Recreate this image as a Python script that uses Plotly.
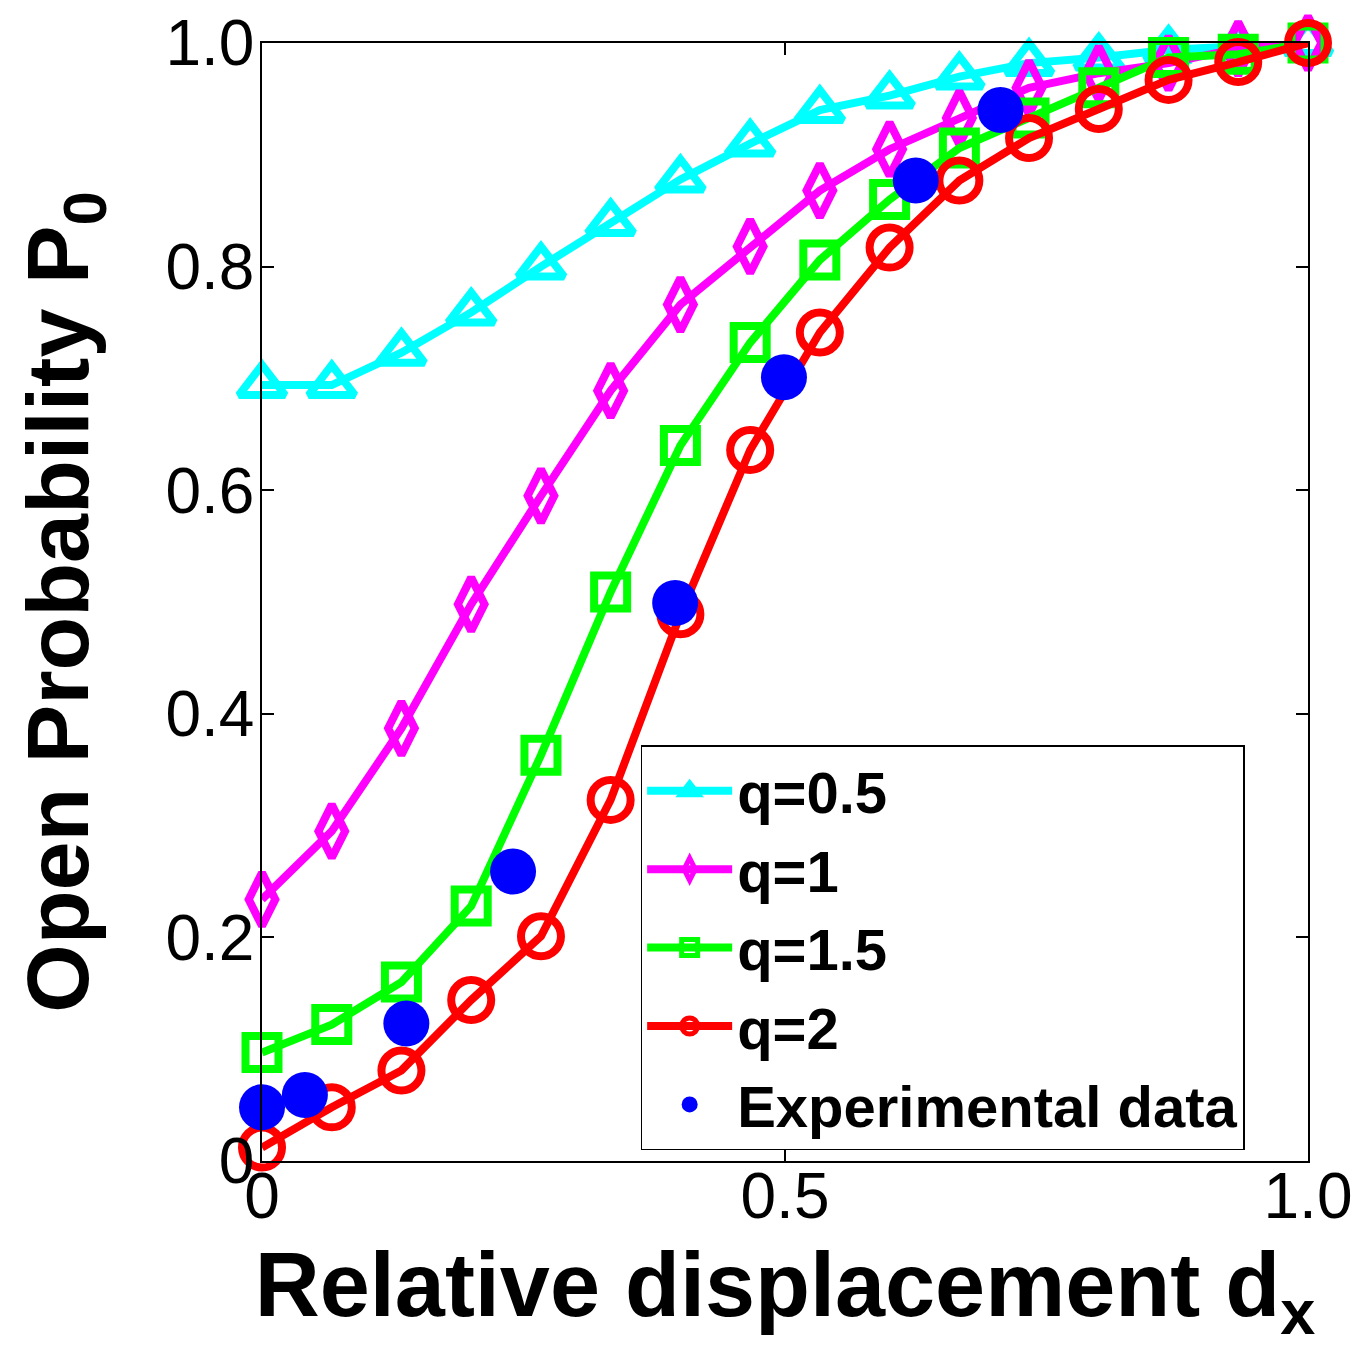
import plotly.graph_objects as go

# x grid of model curves (relative displacement d_x)
dx = [0.0, 0.0667, 0.1333, 0.2, 0.2667, 0.3333, 0.4, 0.4667,
      0.5333, 0.6, 0.6667, 0.7333, 0.8, 0.8667, 0.9333, 1.0]

p_q05 = [0.694, 0.694, 0.723, 0.759, 0.800, 0.839, 0.878, 0.910,
         0.940, 0.953, 0.970, 0.982, 0.987, 0.994, 0.997, 1.0]
p_q1 = [0.234, 0.295, 0.387, 0.498, 0.595, 0.689, 0.766, 0.818,
        0.868, 0.905, 0.933, 0.960, 0.973, 0.982, 0.995, 1.0]
p_q15 = [0.097, 0.122, 0.160, 0.228, 0.363, 0.509, 0.640, 0.732,
         0.806, 0.860, 0.906, 0.933, 0.960, 0.987, 0.990, 1.0]
p_q2 = [0.012, 0.048, 0.081, 0.144, 0.201, 0.323, 0.489, 0.636,
        0.741, 0.817, 0.877, 0.915, 0.941, 0.967, 0.983, 1.0]

exp_x = [0.0, 0.041, 0.138, 0.240, 0.395, 0.499, 0.625, 0.706]
exp_y = [0.048, 0.059, 0.123, 0.259, 0.499, 0.701, 0.877, 0.940]

y_ticks = [0, 0.2, 0.4, 0.6, 0.8, 1.0]
y_ticktext = ["0", "0.2", "0.4", "0.6", "0.8", "1.0"]
x_ticks = [0, 0.5, 1.0]
x_ticktext = ["0", "0.5", "1.0"]

series = [
    ("q=0.5", p_q05, "#00FFFF", "triangle-up-open", 40),
    ("q=1", p_q1, "#FF00FF", "diamond-tall-open", 38),
    ("q=1.5", p_q15, "#00FF00", "square-open", 33),
    ("q=2", p_q2, "#FF0000", "circle-open", 40),
]

fig = go.Figure()
for name, ys, col, sym, sz in series:
    fig.add_trace(go.Scatter(
        x=dx, y=ys, name=name, mode="lines+markers",
        line=dict(color=col, width=8),
        marker=dict(symbol=sym, size=sz, color=col, line=dict(color=col, width=8)),
        cliponaxis=False,
    ))

fig.add_trace(go.Scatter(
    x=exp_x, y=exp_y, name="Experimental data", mode="markers",
    marker=dict(symbol="circle", size=46, color="#0000FF"),
    cliponaxis=False,
))

font_family = "Liberation Sans, Arial, sans-serif"

# page body has an 8px default margin, so the figure is slightly smaller
fig.update_layout(
    width=1355, height=1347,
    margin=dict(l=254, r=55, t=35, b=194, autoexpand=False),
    paper_bgcolor="white", plot_bgcolor="white",
    font=dict(family=font_family, color="black"),
    showlegend=True,
    legend=dict(
        x=0.362, y=0.372, xanchor="left", yanchor="top",
        bgcolor="white", bordercolor="black", borderwidth=1.5,
        font=dict(family=font_family, size=58, color="black", weight="bold"),
        itemwidth=85, tracegroupgap=0,
    ),
)

fig.update_xaxes(
    range=[0, 1], tickvals=x_ticks, ticktext=x_ticktext,
    automargin=False,
    showgrid=False, zeroline=False,
    showline=True, linecolor="black", linewidth=1.5, mirror="allticks",
    ticks="inside", ticklen=12, tickwidth=1.5, tickcolor="black",
    tickfont=dict(family=font_family, size=64, color="black"),
    ticklabelstandoff=-22, ticklabeloverflow="allow",
    title=dict(text="Relative displacement d<sub>x</sub>",
               font=dict(family=font_family, size=90, color="black", weight="bold"),
               standoff=22),
)
fig.update_yaxes(
    range=[0, 1], tickvals=y_ticks, ticktext=y_ticktext,
    automargin=False,
    showgrid=False, zeroline=False,
    showline=True, linecolor="black", linewidth=1.5, mirror="allticks",
    ticks="inside", ticklen=12, tickwidth=1.5, tickcolor="black",
    tickfont=dict(family=font_family, size=64, color="black"),
    ticklabelstandoff=-7, ticklabeloverflow="allow",
    title=dict(text="Open Probability P<sub>0</sub>",
               font=dict(family=font_family, size=88, color="black", weight="bold"),
               standoff=95),
)

fig.write_html("out.html")
